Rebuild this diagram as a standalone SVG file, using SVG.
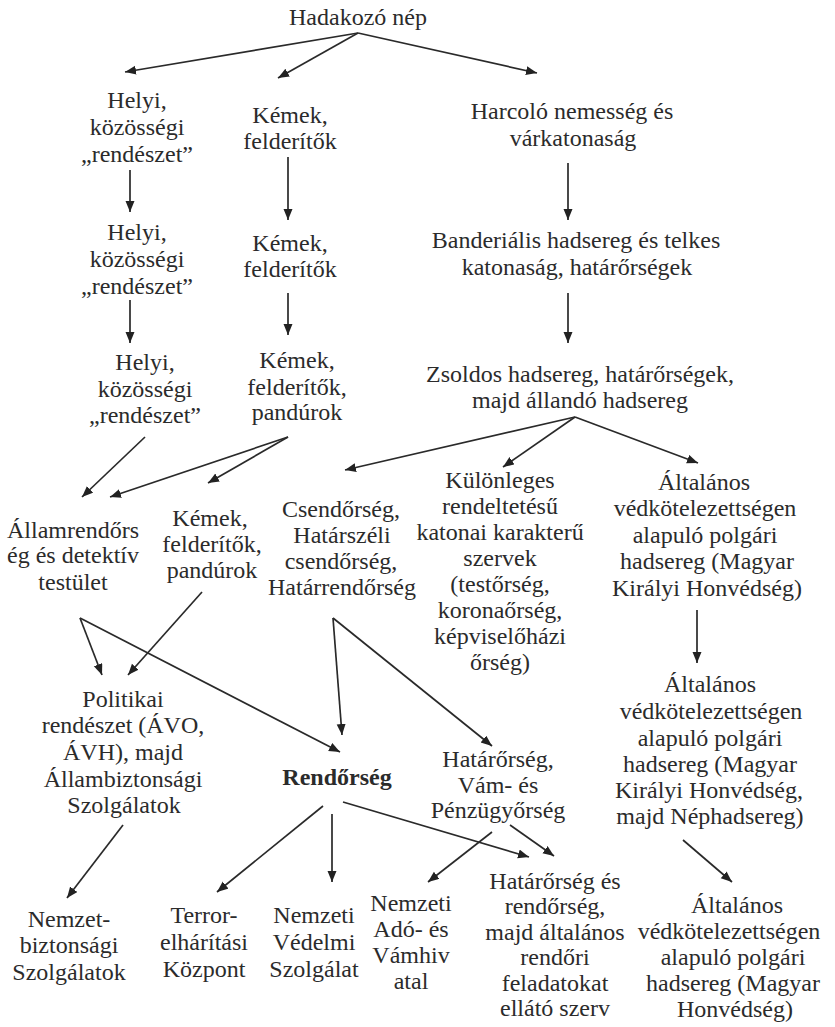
<svg xmlns="http://www.w3.org/2000/svg" width="835" height="1027" viewBox="0 0 835 1027">
<defs>
<marker id="ah" markerUnits="userSpaceOnUse" markerWidth="12" markerHeight="10" refX="11" refY="4.5" orient="auto">
<path d="M0,0 L11,4.5 L0,9 z" fill="#222"/>
</marker>
<style>
text{font-family:"Liberation Serif","Times New Roman",serif;font-size:24px;fill:#2b2b2b;text-anchor:middle}
.b{font-weight:bold}
#edges line{stroke:#2a2a2a;stroke-width:1.7;marker-end:url(#ah)}
</style>
</defs>
<rect width="835" height="1027" fill="#fff"/>
<g id="edges">
<line x1="358" y1="33" x2="125" y2="72"/>
<line x1="358" y1="33" x2="278" y2="78"/>
<line x1="358" y1="33" x2="537" y2="73"/>
<line x1="130" y1="170" x2="130" y2="212"/>
<line x1="288" y1="157" x2="288" y2="220"/>
<line x1="568" y1="163" x2="568" y2="220"/>
<line x1="130" y1="300" x2="130" y2="343"/>
<line x1="288" y1="293" x2="288" y2="335"/>
<line x1="568" y1="293" x2="568" y2="343"/>
<line x1="145" y1="437" x2="82" y2="497"/>
<line x1="288" y1="437" x2="110" y2="497"/>
<line x1="288" y1="437" x2="208" y2="483"/>
<line x1="575" y1="417" x2="345" y2="470"/>
<line x1="575" y1="417" x2="503" y2="467"/>
<line x1="575" y1="417" x2="698" y2="463"/>
<line x1="697" y1="610" x2="697" y2="663"/>
<line x1="80" y1="618" x2="102" y2="675"/>
<line x1="80" y1="618" x2="340" y2="752"/>
<line x1="202" y1="592" x2="128" y2="675"/>
<line x1="333" y1="618" x2="342" y2="735"/>
<line x1="333" y1="618" x2="492" y2="746"/>
<line x1="123" y1="825" x2="67" y2="898"/>
<line x1="323" y1="806" x2="217" y2="892"/>
<line x1="332" y1="814" x2="332" y2="882"/>
<line x1="343" y1="802" x2="529" y2="857"/>
<line x1="492" y1="832" x2="428" y2="882"/>
<line x1="510" y1="825" x2="554" y2="856"/>
<line x1="683" y1="840" x2="732" y2="882"/>
</g>
<g id="n-hadakozo"><text x="358" y="25">Hadakozó nép</text></g>
<g id="n-helyi1"><text><tspan x="137" y="108">Helyi,</tspan><tspan x="137" y="135">közösségi</tspan><tspan x="137" y="162">„rendészet”</tspan></text></g>
<g id="n-kemek1"><text><tspan x="290" y="123">Kémek,</tspan><tspan x="290" y="149">felderítők</tspan></text></g>
<g id="n-harcolo"><text><tspan x="572" y="119">Harcoló nemesség és</tspan><tspan x="573" y="146">várkatonaság</tspan></text></g>
<g id="n-helyi2"><text><tspan x="137" y="240">Helyi,</tspan><tspan x="137" y="267">közösségi</tspan><tspan x="137" y="294">„rendészet”</tspan></text></g>
<g id="n-kemek2"><text><tspan x="290" y="251">Kémek,</tspan><tspan x="290" y="277">felderítők</tspan></text></g>
<g id="n-banderialis"><text><tspan x="576" y="248">Banderiális hadsereg és telkes</tspan><tspan x="577" y="275">katonaság, határőrségek</tspan></text></g>
<g id="n-helyi3"><text><tspan x="145" y="370">Helyi,</tspan><tspan x="145" y="397">közösségi</tspan><tspan x="145" y="423">„rendészet”</tspan></text></g>
<g id="n-kemek3"><text><tspan x="297" y="368">Kémek,</tspan><tspan x="297" y="395">felderítők,</tspan><tspan x="297" y="420">pandúrok</tspan></text></g>
<g id="n-zsoldos"><text><tspan x="580" y="382">Zsoldos hadsereg, határőrségek,</tspan><tspan x="580" y="408">majd állandó hadsereg</tspan></text></g>
<g id="n-allamrendorseg"><text><tspan x="73" y="538">Államrendőrs</tspan><tspan x="73" y="563">ég és detektív</tspan><tspan x="73" y="590">testület</tspan></text></g>
<g id="n-kemek4"><text><tspan x="210" y="526">Kémek,</tspan><tspan x="212" y="552">felderítők,</tspan><tspan x="212" y="578">pandúrok</tspan></text></g>
<g id="n-csendorseg"><text><tspan x="341" y="517">Csendőrség,</tspan><tspan x="342" y="543">Határszéli</tspan><tspan x="341" y="569">csendőrség,</tspan><tspan x="342" y="595">Határrendőrség</tspan></text></g>
<g id="n-kulonleges"><text><tspan x="500" y="488">Különleges</tspan><tspan x="500" y="514">rendeltetésű</tspan><tspan x="500" y="540">katonai karakterű</tspan><tspan x="500" y="566">szervek</tspan><tspan x="500" y="592">(testőrség,</tspan><tspan x="500" y="618">koronaőrség,</tspan><tspan x="500" y="644">képviselőházi</tspan><tspan x="500" y="670">őrség)</tspan></text></g>
<g id="n-altalanos1"><text><tspan x="704" y="490">Általános</tspan><tspan x="705" y="516">védkötelezettségen</tspan><tspan x="705" y="543">alapuló polgári</tspan><tspan x="707" y="569">hadsereg (Magyar</tspan><tspan x="707" y="596">Királyi Honvédség)</tspan></text></g>
<g id="n-politikai"><text><tspan x="123" y="707">Politikai</tspan><tspan x="123" y="733">rendészet (ÁVO,</tspan><tspan x="123" y="760">ÁVH), majd</tspan><tspan x="123" y="787">Állambiztonsági</tspan><tspan x="124" y="813">Szolgálatok</tspan></text></g>
<g id="n-rendorseg"><text class="b" x="337" y="785">Rendőrség</text></g>
<g id="n-hatarorseg-vam"><text><tspan x="498" y="767">Határőrség,</tspan><tspan x="498" y="793">Vám- és</tspan><tspan x="498" y="818">Pénzügyőrség</tspan></text></g>
<g id="n-altalanos2"><text><tspan x="710" y="692">Általános</tspan><tspan x="711" y="719">védkötelezettségen</tspan><tspan x="710" y="746">alapuló polgári</tspan><tspan x="710" y="772">hadsereg (Magyar</tspan><tspan x="709" y="798">Királyi Honvédség,</tspan><tspan x="710" y="824">majd Néphadsereg)</tspan></text></g>
<g id="n-nemzetbiztonsagi"><text><tspan x="69" y="927">Nemzet-</tspan><tspan x="69" y="953">biztonsági</tspan><tspan x="69" y="980">Szolgálatok</tspan></text></g>
<g id="n-terror"><text><tspan x="204" y="923">Terror-</tspan><tspan x="204" y="950">elhárítási</tspan><tspan x="204" y="977">Központ</tspan></text></g>
<g id="n-nvsz"><text><tspan x="314" y="923">Nemzeti</tspan><tspan x="314" y="950">Védelmi</tspan><tspan x="314" y="977">Szolgálat</tspan></text></g>
<g id="n-nav"><text><tspan x="411" y="911">Nemzeti</tspan><tspan x="411" y="937">Adó- és</tspan><tspan x="411" y="963">Vámhiv</tspan><tspan x="411" y="989">atal</tspan></text></g>
<g id="n-hatarorseg-rendorseg"><text><tspan x="555" y="889">Határőrség és</tspan><tspan x="555" y="914">rendőrség,</tspan><tspan x="555" y="940">majd általános</tspan><tspan x="555" y="965">rendőri</tspan><tspan x="555" y="991">feladatokat</tspan><tspan x="555" y="1016">ellátó szerv</tspan></text></g>
<g id="n-altalanos3"><text><tspan x="737" y="913">Általános</tspan><tspan x="729" y="939">védkötelezettségen</tspan><tspan x="733" y="965">alapuló polgári</tspan><tspan x="733" y="991">hadsereg (Magyar</tspan><tspan x="735" y="1017">Honvédség)</tspan></text></g>
</svg>
